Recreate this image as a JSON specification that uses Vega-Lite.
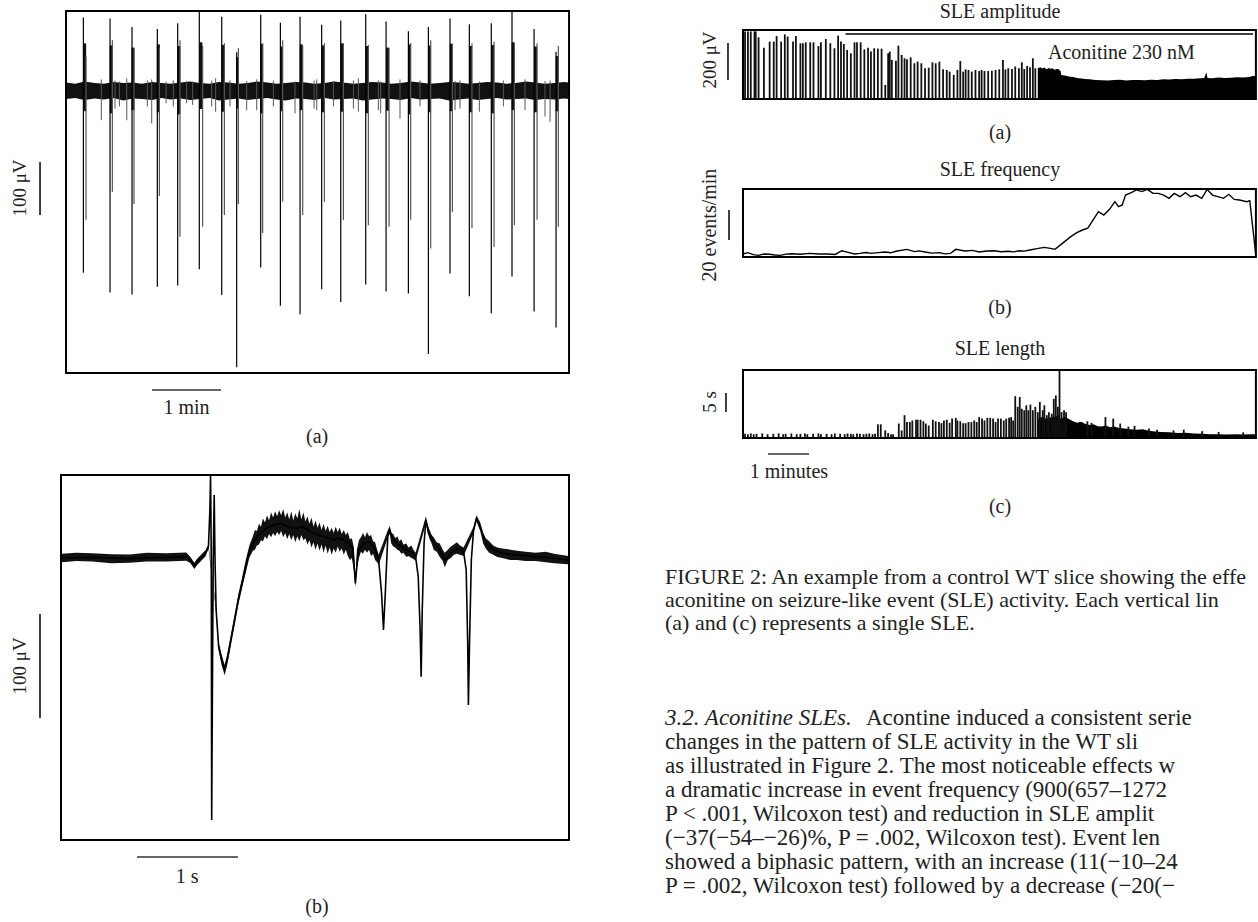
{
  "$schema": "https://vega.github.io/schema/vega-lite/v6.json",
  "padding": 0,
  "spacing": 0,
  "bounds": "full",
  "background": "white",
  "config": {"view": {"stroke": null}},
  "datasets": {
    "a_box": [{"t": 0, "t2": 437.4, "v": 149.1, "v2": -534}],
    "a_noise": [
      {"t":0,"v":14,"v2":-17},{"t":8,"v":12,"v2":-15},{"t":16,"v":16,"v2":-19},{"t":25,"v":13,"v2":-16},{"t":33,"v":12,"v2":-18},{"t":41,"v":15,"v2":-15},{"t":50,"v":13,"v2":-20},{"t":58,"v":14,"v2":-16},{"t":66,"v":12,"v2":-17},{"t":75,"v":15,"v2":-19},{"t":83,"v":13,"v2":-15},{"t":91,"v":12,"v2":-18},{"t":100,"v":14,"v2":-16},{"t":108,"v":16,"v2":-19},{"t":116,"v":13,"v2":-17},{"t":125,"v":12,"v2":-15},{"t":133,"v":15,"v2":-20},{"t":141,"v":14,"v2":-18},{"t":150,"v":12,"v2":-16},{"t":158,"v":13,"v2":-19},{"t":166,"v":16,"v2":-17},{"t":175,"v":14,"v2":-15},{"t":183,"v":12,"v2":-18},{"t":191,"v":13,"v2":-20},{"t":200,"v":15,"v2":-16},{"t":208,"v":14,"v2":-17},{"t":216,"v":12,"v2":-19},{"t":225,"v":13,"v2":-15},{"t":233,"v":16,"v2":-18},{"t":241,"v":14,"v2":-17},{"t":250,"v":12,"v2":-16},{"t":258,"v":13,"v2":-20},{"t":266,"v":15,"v2":-18},{"t":275,"v":14,"v2":-16},{"t":283,"v":12,"v2":-17},{"t":291,"v":13,"v2":-19},{"t":300,"v":16,"v2":-15},{"t":308,"v":14,"v2":-18},{"t":316,"v":12,"v2":-17},{"t":325,"v":13,"v2":-16},{"t":333,"v":15,"v2":-20},{"t":341,"v":14,"v2":-18},{"t":350,"v":12,"v2":-16},{"t":358,"v":13,"v2":-19},{"t":366,"v":15,"v2":-17},{"t":375,"v":14,"v2":-15},{"t":383,"v":12,"v2":-18},{"t":391,"v":13,"v2":-17},{"t":400,"v":16,"v2":-16},{"t":408,"v":14,"v2":-19},{"t":416,"v":12,"v2":-17},{"t":425,"v":13,"v2":-18},{"t":433,"v":15,"v2":-16},{"t":437.4,"v":14,"v2":-17}
    ],
    "a_minor": [
      {"t":30.7,"v":20,"v2":-57},{"t":42.6,"v":18,"v2":-35},{"t":46.4,"v":16,"v2":-31},{"t":52.8,"v":22,"v2":-57},{"t":70.7,"v":18,"v2":-31},{"t":74.5,"v":20,"v2":-63},{"t":87,"v":16,"v2":-25},{"t":93.3,"v":18,"v2":-31},{"t":104.9,"v":17,"v2":-25},{"t":110.1,"v":16,"v2":-28},{"t":126.7,"v":18,"v2":-31},{"t":130.1,"v":22,"v2":-41},{"t":142.6,"v":18,"v2":-31},{"t":157.1,"v":17,"v2":-38},{"t":165.8,"v":20,"v2":-38},{"t":180.3,"v":18,"v2":-31},{"t":199.1,"v":16,"v2":-44},{"t":215.7,"v":18,"v2":-35},{"t":218,"v":20,"v2":-38},{"t":232.5,"v":17,"v2":-31},{"t":249.9,"v":18,"v2":-35},{"t":254.2,"v":22,"v2":-41},{"t":271.6,"v":18,"v2":-38},{"t":273.6,"v":16,"v2":-44},{"t":290.4,"v":20,"v2":-54},{"t":307.8,"v":18,"v2":-31},{"t":338.3,"v":17,"v2":-38},{"t":342.6,"v":18,"v2":-35},{"t":359.4,"v":16,"v2":-41},{"t":380.3,"v":18,"v2":-31},{"t":399.1,"v":20,"v2":-38},{"t":416.5,"v":17,"v2":-50},{"t":420.9,"v":18,"v2":-60}
    ],
    "a_burst": [
      {"t":16.2,"v":88,"v2":-40},{"t":39.3,"v":84,"v2":-44},{"t":58.2,"v":80,"v2":-38},{"t":80.3,"v":86,"v2":-42},{"t":98.1,"v":83,"v2":-46},{"t":117.3,"v":90,"v2":-36},{"t":136.5,"v":85,"v2":-41},{"t":149.1,"v":62,"v2":-35},{"t":170.1,"v":87,"v2":-44},{"t":187.4,"v":82,"v2":-40},{"t":204.6,"v":86,"v2":-38},{"t":223.5,"v":84,"v2":-42},{"t":240,"v":88,"v2":-41},{"t":261.7,"v":83,"v2":-44},{"t":279.6,"v":80,"v2":-39},{"t":298.7,"v":86,"v2":-46},{"t":316.1,"v":84,"v2":-42},{"t":335,"v":87,"v2":-40},{"t":351.8,"v":83,"v2":-42},{"t":371,"v":85,"v2":-44},{"t":388.8,"v":90,"v2":-38},{"t":408.3,"v":82,"v2":-42},{"t":427.1,"v":64,"v2":-40}
    ],
    "a_spk2": [
      {"t":17.4,"v":63,"v2":-245},{"t":40.3,"v":94,"v2":-192},{"t":59.1,"v":79,"v2":-215},{"t":81.2,"v":79,"v2":-200},{"t":99.1,"v":94,"v2":-277},{"t":118.8,"v":83,"v2":-258},{"t":137.7,"v":88,"v2":-236},{"t":149.9,"v":79,"v2":-215},{"t":171,"v":88,"v2":-270},{"t":188.4,"v":94,"v2":-211},{"t":205.8,"v":83,"v2":-236},{"t":224.7,"v":88,"v2":-211},{"t":241.2,"v":88,"v2":-245},{"t":262.9,"v":85,"v2":-255},{"t":280.9,"v":79,"v2":-258},{"t":299.7,"v":88,"v2":-245},{"t":317.1,"v":94,"v2":-299},{"t":336,"v":88,"v2":-230},{"t":353,"v":88,"v2":-261},{"t":372.2,"v":91,"v2":-296},{"t":389.9,"v":85,"v2":-255},{"t":409.6,"v":88,"v2":-245},{"t":428.1,"v":83,"v2":-258}
    ],
    "a_spk": [
      {"t":15.1,"v":137,"v2":-345},{"t":38.3,"v":135,"v2":-382},{"t":57.4,"v":119,"v2":-386},{"t":79.4,"v":115,"v2":-371},{"t":97.1,"v":126,"v2":-369},{"t":115.9,"v":148,"v2":-338},{"t":135.4,"v":138,"v2":-387},{"t":148.4,"v":71,"v2":-523},{"t":169.3,"v":142,"v2":-335},{"t":186.4,"v":127,"v2":-407},{"t":203.5,"v":138,"v2":-423},{"t":222.3,"v":123,"v2":-376},{"t":238.9,"v":131,"v2":-400},{"t":260.6,"v":143,"v2":-367},{"t":278.3,"v":129,"v2":-380},{"t":297.7,"v":111,"v2":-384},{"t":315.1,"v":119,"v2":-498},{"t":333.9,"v":135,"v2":-346},{"t":350.7,"v":124,"v2":-389},{"t":369.8,"v":126,"v2":-421},{"t":387.8,"v":148,"v2":-352},{"t":407,"v":115,"v2":-418},{"t":426.1,"v":72,"v2":-448}
    ],
    "a_vbar": [{"t": -22.6, "v": -135.8, "v2": -235.8}],
    "a_hbar": [{"t": 74.8, "t2": 134.8, "v": -566}],
    "a_txt": [{"t": 104.8, "v": -600, "label": "1 min"}, {"t": 218.3, "v": -654.7, "label": "(a)"}],
    "a_ylab": [{"t": -40, "v": -184.9, "label": "100 μV"}],

    "b_box": [{"t": 0, "t2": 5.03, "v": 79.8, "v2": -271.2}],
    "b_trace": [
      {"t":0.01,"v":0},{"t":0.31,"v":0.6},{"t":0.68,"v":-0.6},{"t":1.04,"v":0.6},{"t":1.24,"v":1.3},{"t":1.28,"v":-1.9},{"t":1.32,"v":-7.7},{"t":1.35,"v":-3.5},{"t":1.43,"v":4.5},{"t":1.46,"v":10.9},{"t":1.474,"v":46.2},{"t":1.481,"v":79.8},{"t":1.488,"v":-1.9},{"t":1.492,"v":-251.9},{"t":1.499,"v":-130.1},{"t":1.507,"v":-1.9},{"t":1.517,"v":60.6},{"t":1.525,"v":-1.9},{"t":1.536,"v":-50},{"t":1.561,"v":-85.3},{"t":1.591,"v":-98.1},{"t":1.62,"v":-107.7},{"t":1.645,"v":-98.1},{"t":1.682,"v":-78.8},{"t":1.719,"v":-59.6},{"t":1.755,"v":-40.4},{"t":1.792,"v":-24.4},{"t":1.829,"v":-8.3},{"t":1.865,"v":6.1},{"t":1.901,"v":14.1},{"t":1.956,"v":22.1},{"t":2.03,"v":28.5},{"t":2.103,"v":31.7},{"t":2.176,"v":33.3},{"t":2.249,"v":30.1},{"t":2.322,"v":28.5},{"t":2.395,"v":30.1},{"t":2.468,"v":25.3},{"t":2.541,"v":22.1},{"t":2.615,"v":20.5},{"t":2.688,"v":17.3},{"t":2.761,"v":18.9},{"t":2.834,"v":15.7},{"t":2.889,"v":9.3},{"t":2.915,"v":-24.4},{"t":2.944,"v":7.7},{"t":2.999,"v":14.1},{"t":3.054,"v":15.7},{"t":3.109,"v":9.3},{"t":3.145,"v":-1.9},{"t":3.174,"v":-34},{"t":3.193,"v":-69.2},{"t":3.211,"v":-34},{"t":3.237,"v":23.7},{"t":3.255,"v":26.9},{"t":3.291,"v":17.3},{"t":3.347,"v":12.5},{"t":3.42,"v":7.7},{"t":3.474,"v":6.1},{"t":3.511,"v":1.3},{"t":3.537,"v":-17.9},{"t":3.555,"v":-66},{"t":3.566,"v":-114.1},{"t":3.577,"v":-50},{"t":3.595,"v":14.1},{"t":3.613,"v":36.5},{"t":3.639,"v":25.3},{"t":3.694,"v":14.1},{"t":3.749,"v":7.7},{"t":3.803,"v":-1.9},{"t":3.858,"v":4.5},{"t":3.932,"v":9.3},{"t":3.986,"v":6.1},{"t":4.012,"v":-11.5},{"t":4.027,"v":-82.1},{"t":4.034,"v":-141.3},{"t":4.045,"v":-82.1},{"t":4.063,"v":-1.9},{"t":4.085,"v":26.9},{"t":4.114,"v":38.1},{"t":4.151,"v":30.1},{"t":4.206,"v":14.1},{"t":4.279,"v":7.7},{"t":4.37,"v":4.5},{"t":4.517,"v":2.9},{"t":4.699,"v":1.3},{"t":4.882,"v":-0.3},{"t":5.022,"v":-1.9}
    ],
    "b_env": [
      {"t":0.01,"v":4,"v2":-4},{"t":0.15,"v":5,"v2":-3},{"t":0.31,"v":4.6,"v2":-3.4},{"t":0.5,"v":3.5,"v2":-5},{"t":0.68,"v":3.4,"v2":-4.6},{"t":0.85,"v":5,"v2":-3.5},{"t":1.04,"v":4.6,"v2":-3.4},{"t":1.24,"v":5.3,"v2":-2.7},{"t":1.28,"v":1.1,"v2":-4.9},{"t":1.32,"v":-4.7,"v2":-10.7},{"t":1.35,"v":-0.5,"v2":-6.5},{"t":1.43,"v":7.5,"v2":1.5},{"t":1.46,"v":12.9,"v2":8.9},
      {"t":1.536,"v":-48,"v2":-52},{"t":1.561,"v":-81.3,"v2":-89.3},{"t":1.591,"v":-93.1,"v2":-103.1},{"t":1.62,"v":-102.7,"v2":-112.7},{"t":1.645,"v":-93.1,"v2":-103.1},{"t":1.682,"v":-73.8,"v2":-83.8},{"t":1.719,"v":-54.6,"v2":-64.6},{"t":1.755,"v":-35.4,"v2":-45.4},{"t":1.792,"v":-19.4,"v2":-29.4},{"t":1.829,"v":-2.3,"v2":-14.3},{"t":1.865,"v":12.1,"v2":0.1},
      {"t":1.90,"v":21,"v2":7},{"t":1.92,"v":27,"v2":8},{"t":1.94,"v":26,"v2":12},{"t":1.96,"v":33,"v2":13},{"t":1.98,"v":30,"v2":17},{"t":2.00,"v":38,"v2":16},{"t":2.02,"v":34,"v2":21},{"t":2.04,"v":41,"v2":18},{"t":2.06,"v":36,"v2":23},{"t":2.08,"v":44,"v2":20},{"t":2.10,"v":39,"v2":24},{"t":2.12,"v":45,"v2":21},{"t":2.14,"v":40,"v2":25},{"t":2.16,"v":46,"v2":22},{"t":2.18,"v":41,"v2":26},{"t":2.20,"v":47,"v2":20},{"t":2.22,"v":39,"v2":24},{"t":2.24,"v":44,"v2":18},{"t":2.26,"v":37,"v2":23},{"t":2.28,"v":45,"v2":17},{"t":2.30,"v":36,"v2":22},{"t":2.32,"v":43,"v2":15},{"t":2.34,"v":38,"v2":21},{"t":2.36,"v":47,"v2":16},{"t":2.38,"v":37,"v2":22},{"t":2.40,"v":44,"v2":17},{"t":2.42,"v":35,"v2":19},{"t":2.44,"v":40,"v2":13},{"t":2.46,"v":33,"v2":17},{"t":2.48,"v":39,"v2":10},{"t":2.50,"v":30,"v2":15},{"t":2.52,"v":36,"v2":8},{"t":2.54,"v":29,"v2":14},{"t":2.56,"v":34,"v2":7},{"t":2.58,"v":27,"v2":13},{"t":2.60,"v":33,"v2":5},{"t":2.62,"v":26,"v2":12},{"t":2.64,"v":31,"v2":4},{"t":2.66,"v":25,"v2":10},{"t":2.68,"v":29,"v2":3},{"t":2.70,"v":24,"v2":9},{"t":2.72,"v":30,"v2":5},{"t":2.74,"v":25,"v2":11},{"t":2.76,"v":29,"v2":6},{"t":2.78,"v":23,"v2":9},{"t":2.80,"v":27,"v2":3},{"t":2.82,"v":22,"v2":8},{"t":2.84,"v":25,"v2":2},{"t":2.86,"v":18,"v2":-2},{"t":2.88,"v":19,"v2":0},{"t":2.90,"v":10,"v2":-12},{"t":2.915,"v":-18,"v2":-28},{"t":2.93,"v":8,"v2":-10},{"t":2.95,"v":17,"v2":0},{"t":2.97,"v":20,"v2":6},{"t":2.99,"v":24,"v2":4},{"t":3.01,"v":20,"v2":8},{"t":3.03,"v":25,"v2":5},{"t":3.05,"v":21,"v2":8},{"t":3.07,"v":22,"v2":2},{"t":3.09,"v":16,"v2":4},{"t":3.11,"v":15,"v2":-2},{"t":3.13,"v":8,"v2":-4},{"t":3.145,"v":3,"v2":-7},
      {"t":3.237,"v":27,"v2":20},{"t":3.255,"v":31,"v2":23},{"t":3.27,"v":24,"v2":14},{"t":3.29,"v":23,"v2":11},{"t":3.31,"v":19,"v2":10},{"t":3.33,"v":21,"v2":8},{"t":3.35,"v":16,"v2":7},{"t":3.37,"v":18,"v2":4},{"t":3.39,"v":13,"v2":5},{"t":3.42,"v":14,"v2":1},{"t":3.44,"v":10,"v2":2},{"t":3.47,"v":12,"v2":0},{"t":3.49,"v":8,"v2":-1},{"t":3.511,"v":5,"v2":-3},
      {"t":3.613,"v":40,"v2":33},{"t":3.63,"v":32,"v2":24},{"t":3.65,"v":27,"v2":18},{"t":3.67,"v":22,"v2":14},{"t":3.69,"v":20,"v2":8},{"t":3.72,"v":15,"v2":6},{"t":3.75,"v":14,"v2":1},{"t":3.78,"v":8,"v2":-3},{"t":3.80,"v":5,"v2":-9},{"t":3.83,"v":8,"v2":-2},{"t":3.86,"v":11,"v2":0},{"t":3.89,"v":13,"v2":3},{"t":3.92,"v":15,"v2":4},{"t":3.95,"v":12,"v2":3},{"t":3.986,"v":10,"v2":2},
      {"t":4.085,"v":30,"v2":24},{"t":4.114,"v":41,"v2":35},{"t":4.151,"v":34,"v2":26},{"t":4.18,"v":24,"v2":14},{"t":4.206,"v":19,"v2":9},{"t":4.24,"v":16,"v2":5},{"t":4.279,"v":12,"v2":3},{"t":4.32,"v":10,"v2":1},{"t":4.37,"v":9,"v2":0},{"t":4.45,"v":8,"v2":-2},{"t":4.517,"v":7,"v2":-2},{"t":4.6,"v":6,"v2":-3},{"t":4.699,"v":5,"v2":-3},{"t":4.8,"v":6,"v2":-4},{"t":4.882,"v":4,"v2":-5},{"t":5.022,"v":2,"v2":-6}
    ],
    "b_vbar": [{"t": -0.208, "v": -53.8, "v2": -153.8}],
    "b_hbar": [{"t": 0.752, "t2": 1.752, "v": -287.5}],
    "b_txt": [{"t": 1.248, "v": -306.7, "label": "1 s"}, {"t": 2.535, "v": -335.6, "label": "(b)"}],
    "b_ylab": [{"t": -0.406, "v": -103.8, "label": "100 μV"}],

    "r1_box": [{"t": 0, "t2": 12.51, "v": 372.6, "v2": 0}],
    "r1_bars": [
      {"t":0.05,"v":365},{"t":0.12,"v":365},{"t":0.19,"v":365},{"t":0.28,"v":365},{"t":0.31,"v":365},{"t":0.38,"v":333},{"t":0.51,"v":277},{"t":0.65,"v":310},{"t":0.75,"v":310},{"t":0.82,"v":340},{"t":0.93,"v":310},{"t":1.02,"v":349},{"t":1.09,"v":337},{"t":1.22,"v":310},{"t":1.29,"v":340},{"t":1.40,"v":301},{"t":1.46,"v":301},{"t":1.53,"v":306},{"t":1.64,"v":306},{"t":1.72,"v":306},{"t":1.84,"v":286},{"t":1.90,"v":306},{"t":2.02,"v":324},{"t":2.13,"v":301},{"t":2.23,"v":274},{"t":2.32,"v":342},{"t":2.39,"v":310},{"t":2.46,"v":297},{"t":2.54,"v":265},{"t":2.63,"v":247},{"t":2.72,"v":306},{"t":2.78,"v":306},{"t":2.87,"v":306},{"t":2.96,"v":268},{"t":3.05,"v":277},{"t":3.12,"v":256},{"t":3.20,"v":274},{"t":3.29,"v":272},{"t":3.38,"v":272},{"t":3.47,"v":76},{"t":3.54,"v":247},{"t":3.58,"v":256},{"t":3.63,"v":211},{"t":3.73,"v":207},{"t":3.79,"v":288},{"t":3.87,"v":238},{"t":3.94,"v":220},{"t":4.00,"v":214},{"t":4.09,"v":225},{"t":4.18,"v":193},{"t":4.26,"v":202},{"t":4.35,"v":193},{"t":4.44,"v":166},{"t":4.53,"v":169},{"t":4.62,"v":198},{"t":4.70,"v":193},{"t":4.79,"v":202},{"t":4.88,"v":160},{"t":4.97,"v":157},{"t":5.04,"v":148},{"t":5.14,"v":130},{"t":5.23,"v":157},{"t":5.30,"v":205},{"t":5.37,"v":148},{"t":5.43,"v":160},{"t":5.50,"v":157},{"t":5.58,"v":148},{"t":5.67,"v":157},{"t":5.76,"v":151},{"t":5.82,"v":157},{"t":5.89,"v":151},{"t":5.98,"v":151},{"t":6.07,"v":153},{"t":6.16,"v":157},{"t":6.25,"v":160},{"t":6.34,"v":211},{"t":6.40,"v":160},{"t":6.47,"v":166},{"t":6.56,"v":162},{"t":6.64,"v":175},{"t":6.73,"v":166},{"t":6.80,"v":198},{"t":6.86,"v":162},{"t":6.93,"v":178},{"t":7.00,"v":171},{"t":7.07,"v":220},{"t":7.13,"v":166}
    ],
    "r1_dense": [
      {"t":7.19,"v":166},{"t":7.25,"v":172},{"t":7.3,"v":165},{"t":7.35,"v":170},{"t":7.4,"v":160},{"t":7.45,"v":168},{"t":7.5,"v":163},{"t":7.55,"v":166},{"t":7.6,"v":158},{"t":7.65,"v":162},{"t":7.7,"v":160},{"t":7.75,"v":150},{"t":7.76,"v":130},{"t":7.85,"v":127},{"t":7.95,"v":122},{"t":8.05,"v":119},{"t":8.15,"v":114},{"t":8.25,"v":111},{"t":8.35,"v":108},{"t":8.45,"v":106},{"t":8.6,"v":103},{"t":8.75,"v":101},{"t":8.9,"v":100},{"t":9.05,"v":102},{"t":9.2,"v":104},{"t":9.35,"v":100},{"t":9.5,"v":102},{"t":9.65,"v":103},{"t":9.8,"v":101},{"t":9.95,"v":104},{"t":10.1,"v":103},{"t":10.25,"v":106},{"t":10.4,"v":105},{"t":10.55,"v":108},{"t":10.7,"v":106},{"t":10.85,"v":109},{"t":11.0,"v":110},{"t":11.15,"v":112},{"t":11.25,"v":113},{"t":11.3,"v":145},{"t":11.33,"v":114},{"t":11.45,"v":112},{"t":11.6,"v":116},{"t":11.75,"v":114},{"t":11.9,"v":115},{"t":12.05,"v":118},{"t":12.2,"v":116},{"t":12.35,"v":119},{"t":12.45,"v":125},{"t":12.51,"v":122}
    ],
    "r1_acon": [{"t": 2.5, "t2": 12.44, "v": 351}],
    "r1_txt": [{"t": 6.268, "v": 469.8, "label": "SLE amplitude"}, {"t": 6.268, "v": -183.6, "label": "(a)"}],
    "r1_acontxt": [{"t": 7.44, "v": 248.4, "label": "Aconitine 230 nM"}],
    "r1_vbar": [{"t": -0.366, "v": 302.4, "v2": 102.6}],
    "r1_ylab": [{"t": -0.805, "v": 210.6, "label": "200 μV"}],

    "r2_box": [{"t": 0, "t2": 12.51, "v": 45.33, "v2": 0}],
    "r2_line": [
      {"t":0,"v":2.0},{"t":0.12,"v":2.9},{"t":0.25,"v":1.6},{"t":0.38,"v":1.1},{"t":0.52,"v":2.0},{"t":0.65,"v":1.8},{"t":0.78,"v":1.3},{"t":0.91,"v":1.1},{"t":1.05,"v":1.9},{"t":1.18,"v":2.2},{"t":1.4,"v":1.8},{"t":1.62,"v":2.4},{"t":1.85,"v":2.0},{"t":2.06,"v":2.0},{"t":2.25,"v":1.7},{"t":2.41,"v":4.2},{"t":2.59,"v":2.9},{"t":2.72,"v":2.0},{"t":2.85,"v":2.4},{"t":3.0,"v":3.0},{"t":3.12,"v":2.4},{"t":3.3,"v":2.9},{"t":3.47,"v":3.3},{"t":3.6,"v":2.8},{"t":3.73,"v":3.8},{"t":4.0,"v":5.1},{"t":4.18,"v":3.6},{"t":4.3,"v":4.1},{"t":4.44,"v":3.3},{"t":4.6,"v":2.6},{"t":4.79,"v":2.9},{"t":4.92,"v":2.1},{"t":5.06,"v":2.4},{"t":5.19,"v":5.1},{"t":5.41,"v":4.0},{"t":5.6,"v":4.4},{"t":5.76,"v":3.3},{"t":5.95,"v":4.0},{"t":6.12,"v":4.2},{"t":6.3,"v":3.5},{"t":6.47,"v":3.8},{"t":6.6,"v":3.4},{"t":6.73,"v":4.2},{"t":6.86,"v":3.9},{"t":7.0,"v":4.7},{"t":7.17,"v":5.6},{"t":7.35,"v":6.4},{"t":7.53,"v":5.6},{"t":7.61,"v":5.1},{"t":7.79,"v":9.1},{"t":7.97,"v":13.1},{"t":8.14,"v":16.2},{"t":8.28,"v":18},{"t":8.41,"v":19.3},{"t":8.54,"v":24.7},{"t":8.67,"v":30.2},{"t":8.8,"v":28},{"t":8.94,"v":31.8},{"t":9.07,"v":36.9},{"t":9.16,"v":33.6},{"t":9.25,"v":34.7},{"t":9.33,"v":41.3},{"t":9.47,"v":42.9},{"t":9.6,"v":44.7},{"t":9.73,"v":43.6},{"t":9.86,"v":45.1},{"t":10.0,"v":42.4},{"t":10.13,"v":42.4},{"t":10.26,"v":41.3},{"t":10.39,"v":39.1},{"t":10.52,"v":42.4},{"t":10.66,"v":40.2},{"t":10.79,"v":42.9},{"t":10.92,"v":40.2},{"t":11.05,"v":41.3},{"t":11.19,"v":39.1},{"t":11.32,"v":45.1},{"t":11.45,"v":41.3},{"t":11.58,"v":40.2},{"t":11.72,"v":39.1},{"t":11.85,"v":41.8},{"t":11.98,"v":38.4},{"t":12.11,"v":38},{"t":12.29,"v":36.9},{"t":12.36,"v":37.6},{"t":12.51,"v":0.7}
    ],
    "r2_txt": [{"t": 6.268, "v": 58, "label": "SLE frequency"}, {"t": 6.268, "v": -34, "label": "(b)"}],
    "r2_vbar": [{"t": -0.341, "v": 31.33, "v2": 11.33}],
    "r2_ylab": [{"t": -0.805, "v": 21.3, "label": "20 events/min"}],

    "r3_box": [{"t": 0, "t2": 12.51, "v": 17.89, "v2": 0}],
    "r3_bars": [
      {"t":0.05,"v":1.1},{"t":0.12,"v":1.0},{"t":0.19,"v":1.2},{"t":0.26,"v":1.0},{"t":0.33,"v":1.1},{"t":0.47,"v":1.2},{"t":0.60,"v":1.0},{"t":0.74,"v":1.1},{"t":0.87,"v":1.2},{"t":0.98,"v":1.0},{"t":1.04,"v":1.1},{"t":1.18,"v":1.2},{"t":1.31,"v":1.0},{"t":1.40,"v":1.1},{"t":1.51,"v":1.2},{"t":1.57,"v":1.0},{"t":1.71,"v":1.1},{"t":1.84,"v":1.2},{"t":1.90,"v":1.0},{"t":2.04,"v":1.1},{"t":2.16,"v":1.0},{"t":2.24,"v":1.2},{"t":2.37,"v":1.1},{"t":2.48,"v":1.0},{"t":2.55,"v":1.2},{"t":2.63,"v":1.1},{"t":2.69,"v":1.0},{"t":2.78,"v":1.2},{"t":2.85,"v":1.1},{"t":2.94,"v":1.0},{"t":3.01,"v":1.1},{"t":3.08,"v":1.2},{"t":3.16,"v":1.0},{"t":3.22,"v":1.1},
      {"t":3.29,"v":3.6},{"t":3.36,"v":3.6},{"t":3.47,"v":2.0},{"t":3.54,"v":1.3},{"t":3.61,"v":1.0},{"t":3.66,"v":1.0},{"t":3.80,"v":3.8},{"t":3.87,"v":2.0},{"t":3.94,"v":6.0},{"t":4.00,"v":4.2},{"t":4.07,"v":4.2},{"t":4.13,"v":4.6},{"t":4.22,"v":4.8},{"t":4.26,"v":4.8},{"t":4.33,"v":4.8},{"t":4.40,"v":4.4},{"t":4.46,"v":3.8},{"t":4.53,"v":3.3},{"t":4.63,"v":4.8},{"t":4.70,"v":4.4},{"t":4.78,"v":4.2},{"t":4.84,"v":3.9},{"t":4.90,"v":4.6},{"t":4.97,"v":4.8},{"t":5.04,"v":4.0},{"t":5.10,"v":5.1},{"t":5.19,"v":5.3},{"t":5.23,"v":4.6},{"t":5.30,"v":4.4},{"t":5.37,"v":3.9},{"t":5.43,"v":3.9},{"t":5.50,"v":4.2},{"t":5.57,"v":4.2},{"t":5.64,"v":4.6},{"t":5.70,"v":4.2},{"t":5.76,"v":5.5},{"t":5.83,"v":5.1},{"t":5.89,"v":4.6},{"t":5.96,"v":5.3},{"t":6.03,"v":5.3},{"t":6.10,"v":5.1},{"t":6.16,"v":4.2},{"t":6.22,"v":5.1},{"t":6.29,"v":5.1},{"t":6.36,"v":4.6},{"t":6.42,"v":5.1},{"t":6.49,"v":5.3},{"t":6.54,"v":5.5},{"t":6.59,"v":4.6},{"t":6.64,"v":11.0},{"t":6.70,"v":8.2},{"t":6.75,"v":10.8},{"t":6.80,"v":7.7},{"t":6.86,"v":7.3},{"t":6.91,"v":8.6},{"t":6.96,"v":7.3},{"t":7.01,"v":8.8},{"t":7.07,"v":7.3},{"t":7.13,"v":8.2},{"t":7.19,"v":6.8},{"t":7.24,"v":9.5},{"t":7.31,"v":7.3},{"t":7.35,"v":8.6},{"t":7.41,"v":6.0},{"t":7.46,"v":6.8},{"t":7.53,"v":6.4},{"t":7.58,"v":10.3},{"t":7.63,"v":11.2},{"t":7.68,"v":8.2},{"t":7.72,"v":17.9},{"t":7.77,"v":6.8},{"t":7.83,"v":7.3},{"t":7.88,"v":6.8},
      {"t":8.4,"v":4.4},{"t":8.5,"v":4.0},{"t":8.84,"v":5.5},{"t":9.03,"v":5.1},{"t":9.2,"v":3.8},{"t":9.4,"v":3.0},{"t":9.55,"v":3.2},{"t":9.9,"v":2.5},{"t":10.1,"v":2.2},{"t":10.5,"v":2.0},{"t":10.75,"v":2.2},{"t":11.2,"v":1.8},{"t":11.6,"v":1.6},{"t":12.2,"v":1.5}
    ],
    "r3_dense": [
      {"t":7.19,"v":5.0},{"t":7.3,"v":5.6},{"t":7.4,"v":5.0},{"t":7.5,"v":5.4},{"t":7.6,"v":5.6},{"t":7.7,"v":6.0},{"t":7.75,"v":5.0},{"t":7.85,"v":5.6},{"t":7.95,"v":5.0},{"t":8.05,"v":4.4},{"t":8.15,"v":4.0},{"t":8.25,"v":4.3},{"t":8.35,"v":3.7},{"t":8.45,"v":3.4},{"t":8.55,"v":3.6},{"t":8.65,"v":3.1},{"t":8.75,"v":3.0},{"t":8.85,"v":3.3},{"t":8.95,"v":2.8},{"t":9.05,"v":3.0},{"t":9.15,"v":2.7},{"t":9.3,"v":2.5},{"t":9.45,"v":2.3},{"t":9.6,"v":2.2},{"t":9.75,"v":2.3},{"t":9.9,"v":1.9},{"t":10.05,"v":1.7},{"t":10.2,"v":1.6},{"t":10.4,"v":1.5},{"t":10.6,"v":1.3},{"t":10.8,"v":1.4},{"t":11.0,"v":1.2},{"t":11.2,"v":1.1},{"t":11.4,"v":1.0},{"t":11.6,"v":1.0},{"t":11.8,"v":0.9},{"t":12.0,"v":1.0},{"t":12.2,"v":0.9},{"t":12.4,"v":1.0},{"t":12.51,"v":1.0}
    ],
    "r3_txt": [{"t": 6.268, "v": 23.42, "label": "SLE length"}, {"t": 6.268, "v": -18.16, "label": "(c)"}, {"t": 1.12, "v": -8.95, "label": "1 minutes"}],
    "r3_vbar": [{"t": -0.415, "v": 11.84, "v2": 6.84}],
    "r3_hbar": [{"t": 0.61, "t2": 1.61, "v": -4.21}],
    "r3_ylab": [{"t": -0.805, "v": 9.47, "label": "5 s"}],

    "caption": [
      {"n": 0.12, "text": "FIGURE 2: An example from a control WT slice showing the effe"},
      {"n": 1.08, "text": "aconitine on seizure-like event (SLE) activity. Each vertical lin"},
      {"n": 2.04, "text": "(a) and (c) represents a single SLE."}
    ],
    "para_it": [{"n": 6, "text": "3.2. Aconitine SLEs."}],
    "para_first": [{"n": 6, "text": "Acontine induced a consistent serie"}],
    "para": [
      {"n": 7, "text": "changes in the pattern of SLE activity in the WT sli"},
      {"n": 8, "text": "as illustrated in Figure 2. The most noticeable effects w"},
      {"n": 9, "text": "a dramatic increase in event frequency (900(657–1272"},
      {"n": 10, "text": "P < .001, Wilcoxon test) and reduction in SLE amplit"},
      {"n": 11, "text": "(−37(−54–−26)%, P = .002, Wilcoxon test). Event len"},
      {"n": 12, "text": "showed a biphasic pattern, with an increase (11(−10–24"},
      {"n": 13, "text": "P = .002, Wilcoxon test) followed by a decrease (−20(−"}
    ]
  },
  "hconcat": [
    {
      "spacing": 0,
      "bounds": "flush",
      "vconcat": [
        {
          "width": 640, "height": 460,
          "encoding": {
            "x": {"field": "t", "type": "quantitative", "scale": {"domain": [-57.4, 499.1], "nice": false, "zero": false}, "axis": null},
            "y": {"field": "v", "type": "quantitative", "scale": {"domain": [-698.1, 169.8], "nice": false, "zero": false}, "axis": null}
          },
          "layer": [
            {"data": {"name": "a_noise"}, "mark": {"type": "area", "color": "#111"}, "encoding": {"y2": {"field": "v2"}}},
            {"data": {"name": "a_minor"}, "mark": {"type": "rule", "color": "#555", "strokeWidth": 1}, "encoding": {"y2": {"field": "v2"}}},
            {"data": {"name": "a_burst"}, "mark": {"type": "rule", "color": "#111", "strokeWidth": 3}, "encoding": {"y2": {"field": "v2"}}},
            {"data": {"name": "a_spk2"}, "mark": {"type": "rule", "color": "#555", "strokeWidth": 1.2}, "encoding": {"y2": {"field": "v2"}}},
            {"data": {"name": "a_spk"}, "mark": {"type": "rule", "color": "#000", "strokeWidth": 1.2}, "encoding": {"y2": {"field": "v2"}}},
            {"data": {"name": "a_box"}, "mark": {"type": "rect", "filled": false, "color": "#000", "strokeWidth": 2}, "encoding": {"x2": {"field": "t2"}, "y2": {"field": "v2"}}},
            {"data": {"name": "a_vbar"}, "mark": {"type": "rule", "color": "#000", "strokeWidth": 1.5}, "encoding": {"y2": {"field": "v2"}}},
            {"data": {"name": "a_hbar"}, "mark": {"type": "rule", "color": "#333", "strokeWidth": 1.5}, "encoding": {"x2": {"field": "t2"}}},
            {"data": {"name": "a_txt"}, "mark": {"type": "text", "font": "Liberation Serif", "fontSize": 20, "color": "#222", "align": "center", "baseline": "middle"}, "encoding": {"text": {"field": "label"}}},
            {"data": {"name": "a_ylab"}, "mark": {"type": "text", "font": "Liberation Serif", "fontSize": 19, "color": "#222", "angle": 270, "align": "center", "baseline": "middle"}, "encoding": {"text": {"field": "label"}}}
          ]
        },
        {
          "width": 640, "height": 462,
          "encoding": {
            "x": {"field": "t", "type": "quantitative", "scale": {"domain": [-0.604, 5.733], "nice": false, "zero": false}, "axis": null},
            "y": {"field": "v", "type": "quantitative", "scale": {"domain": [-350, 94.2], "nice": false, "zero": false}, "axis": null}
          },
          "layer": [
            {"data": {"name": "b_env"}, "mark": {"type": "area", "color": "#111"}, "encoding": {"y2": {"field": "v2"}}},
            {"data": {"name": "b_trace"}, "mark": {"type": "line", "color": "#000", "strokeWidth": 1.6}, "encoding": {}},
            {"data": {"name": "b_box"}, "mark": {"type": "rect", "filled": false, "color": "#000", "strokeWidth": 2}, "encoding": {"x2": {"field": "t2"}, "y2": {"field": "v2"}}},
            {"data": {"name": "b_vbar"}, "mark": {"type": "rule", "color": "#000", "strokeWidth": 1.5}, "encoding": {"y2": {"field": "v2"}}},
            {"data": {"name": "b_hbar"}, "mark": {"type": "rule", "color": "#333", "strokeWidth": 1.5}, "encoding": {"x2": {"field": "t2"}}},
            {"data": {"name": "b_txt"}, "mark": {"type": "text", "font": "Liberation Serif", "fontSize": 20, "color": "#222", "align": "center", "baseline": "middle"}, "encoding": {"text": {"field": "label"}}},
            {"data": {"name": "b_ylab"}, "mark": {"type": "text", "font": "Liberation Serif", "fontSize": 19, "color": "#222", "angle": 270, "align": "center", "baseline": "middle"}, "encoding": {"text": {"field": "label"}}}
          ]
        }
      ]
    },
    {
      "spacing": 0,
      "bounds": "flush",
      "vconcat": [
        {
          "width": 618, "height": 140,
          "encoding": {
            "x": {"field": "t", "type": "quantitative", "scale": {"domain": [-2.512, 12.561], "nice": false, "zero": false}, "axis": null},
            "y": {"field": "v", "type": "quantitative", "scale": {"domain": [-221.4, 534.6], "nice": false, "zero": false}, "axis": null}
          },
          "layer": [
            {"data": {"name": "r1_dense"}, "mark": {"type": "area", "color": "#000"}, "encoding": {"y2": {"datum": 0}}},
            {"data": {"name": "r1_bars"}, "mark": {"type": "rule", "color": "#111", "strokeWidth": 1.8}, "encoding": {"y2": {"datum": 0}}},
            {"data": {"name": "r1_box"}, "mark": {"type": "rect", "filled": false, "color": "#000", "strokeWidth": 2}, "encoding": {"x2": {"field": "t2"}, "y2": {"field": "v2"}}},
            {"data": {"name": "r1_acon"}, "mark": {"type": "rule", "color": "#000", "strokeWidth": 1.3}, "encoding": {"x2": {"field": "t2"}}},
            {"data": {"name": "r1_vbar"}, "mark": {"type": "rule", "color": "#000", "strokeWidth": 1.5}, "encoding": {"y2": {"field": "v2"}}},
            {"data": {"name": "r1_txt"}, "mark": {"type": "text", "font": "Liberation Serif", "fontSize": 20, "color": "#222", "align": "center", "baseline": "middle"}, "encoding": {"text": {"field": "label"}}},
            {"data": {"name": "r1_acontxt"}, "mark": {"type": "text", "font": "Liberation Serif", "fontSize": 20, "color": "#222", "align": "left", "baseline": "middle"}, "encoding": {"text": {"field": "label"}}},
            {"data": {"name": "r1_ylab"}, "mark": {"type": "text", "font": "Liberation Serif", "fontSize": 19, "color": "#222", "angle": 270, "align": "center", "baseline": "middle"}, "encoding": {"text": {"field": "label"}}}
          ]
        },
        {
          "width": 618, "height": 180,
          "encoding": {
            "x": {"field": "t", "type": "quantitative", "scale": {"domain": [-2.512, 12.561], "nice": false, "zero": false}, "axis": null},
            "y": {"field": "v", "type": "quantitative", "scale": {"domain": [-42, 78], "nice": false, "zero": false}, "axis": null}
          },
          "layer": [
            {"data": {"name": "r2_line"}, "mark": {"type": "line", "color": "#000", "strokeWidth": 1.4}, "encoding": {}},
            {"data": {"name": "r2_box"}, "mark": {"type": "rect", "filled": false, "color": "#000", "strokeWidth": 2}, "encoding": {"x2": {"field": "t2"}, "y2": {"field": "v2"}}},
            {"data": {"name": "r2_vbar"}, "mark": {"type": "rule", "color": "#000", "strokeWidth": 1.5}, "encoding": {"y2": {"field": "v2"}}},
            {"data": {"name": "r2_txt"}, "mark": {"type": "text", "font": "Liberation Serif", "fontSize": 20, "color": "#222", "align": "center", "baseline": "middle"}, "encoding": {"text": {"field": "label"}}},
            {"data": {"name": "r2_ylab"}, "mark": {"type": "text", "font": "Liberation Serif", "fontSize": 20, "color": "#222", "angle": 270, "align": "center", "baseline": "middle"}, "encoding": {"text": {"field": "label"}}}
          ]
        },
        {
          "width": 618, "height": 210,
          "encoding": {
            "x": {"field": "t", "type": "quantitative", "scale": {"domain": [-2.512, 12.561], "nice": false, "zero": false}, "axis": null},
            "y": {"field": "v", "type": "quantitative", "scale": {"domain": [-24.21, 31.05], "nice": false, "zero": false}, "axis": null}
          },
          "layer": [
            {"data": {"name": "r3_dense"}, "mark": {"type": "area", "color": "#000"}, "encoding": {"y2": {"datum": 0}}},
            {"data": {"name": "r3_bars"}, "mark": {"type": "rule", "color": "#111", "strokeWidth": 1.8}, "encoding": {"y2": {"datum": 0}}},
            {"data": {"name": "r3_box"}, "mark": {"type": "rect", "filled": false, "color": "#000", "strokeWidth": 2}, "encoding": {"x2": {"field": "t2"}, "y2": {"field": "v2"}}},
            {"data": {"name": "r3_vbar"}, "mark": {"type": "rule", "color": "#000", "strokeWidth": 1.5}, "encoding": {"y2": {"field": "v2"}}},
            {"data": {"name": "r3_hbar"}, "mark": {"type": "rule", "color": "#333", "strokeWidth": 1.5}, "encoding": {"x2": {"field": "t2"}}},
            {"data": {"name": "r3_txt"}, "mark": {"type": "text", "font": "Liberation Serif", "fontSize": 20, "color": "#222", "align": "center", "baseline": "middle"}, "encoding": {"text": {"field": "label"}}},
            {"data": {"name": "r3_ylab"}, "mark": {"type": "text", "font": "Liberation Serif", "fontSize": 19, "color": "#222", "angle": 270, "align": "center", "baseline": "middle"}, "encoding": {"text": {"field": "label"}}}
          ]
        },
        {
          "width": 618, "height": 392,
          "encoding": {
            "x": {"datum": 0, "type": "quantitative", "scale": {"domain": [-25, 593], "nice": false, "zero": false}, "axis": null},
            "y": {"field": "n", "type": "quantitative", "scale": {"domain": [-1.833, 14.5], "reverse": true, "nice": false, "zero": false}, "axis": null},
            "text": {"field": "text"}
          },
          "layer": [
            {"data": {"name": "caption"}, "mark": {"type": "text", "font": "Liberation Serif", "fontSize": 22, "color": "#222", "align": "left", "baseline": "middle"}},
            {"data": {"name": "para_it"}, "mark": {"type": "text", "font": "Liberation Serif", "fontStyle": "italic", "fontSize": 23, "color": "#222", "align": "left", "baseline": "middle"}},
            {"data": {"name": "para_first"}, "mark": {"type": "text", "font": "Liberation Serif", "fontSize": 23, "color": "#222", "align": "left", "baseline": "middle", "dx": 201}},
            {"data": {"name": "para"}, "mark": {"type": "text", "font": "Liberation Serif", "fontSize": 23, "color": "#222", "align": "left", "baseline": "middle"}}
          ]
        }
      ]
    }
  ]
}
